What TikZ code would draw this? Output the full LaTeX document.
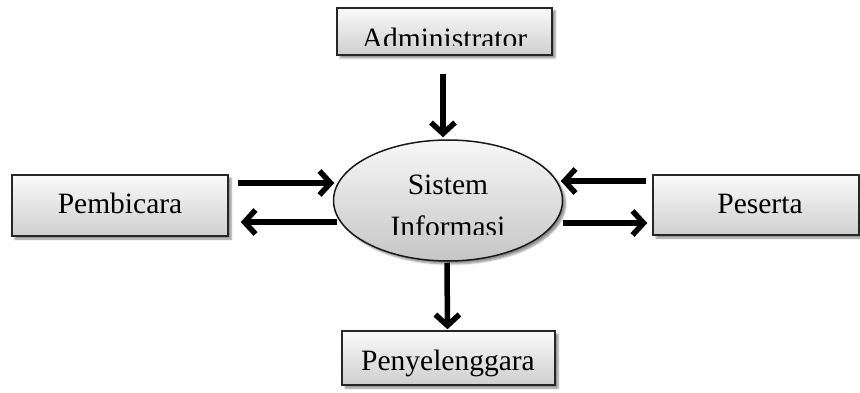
\documentclass[tikz,border=0pt]{standalone}
\usepackage{fontspec}
\setmainfont{Liberation Serif}
\usetikzlibrary{arrows.meta,shapes.geometric,shadows.blur}
\begin{document}
\begin{tikzpicture}[x=1pt,y=-1pt,
  entity/.style={rectangle, draw=black!85, line width=1.5pt, inner sep=0pt,
    top color=gray!4, bottom color=gray!38,
    blur shadow={shadow xshift=3pt, shadow yshift=-3pt, shadow blur steps=6, shadow opacity=45}},
  proc/.style={ellipse, draw=black!90, line width=1.5pt, inner sep=0pt,
    top color=gray!6, bottom color=gray!45,
    blur shadow={shadow xshift=3pt, shadow yshift=-3pt, shadow blur steps=6, shadow opacity=45}},
  lbl/.style={anchor=base, inner sep=0pt, font=\fontsize{29.5}{41}\selectfont},
  arr/.style={line width=5.5pt, -{Straight Barb[length=11pt,width=24pt]}}]
\useasboundingbox (0,0) rectangle (860,393);
% nodes
\node[entity, minimum width=215pt, minimum height=47pt] (admin) at (444.5,31.5) {};
\node[entity, minimum width=216pt, minimum height=61pt] (pemb) at (120,205.5) {};
\node[entity, minimum width=206pt, minimum height=60pt] (pes) at (756,205) {};
\node[entity, minimum width=213pt, minimum height=54pt] (peny) at (448.5,358) {};
\node[proc, minimum width=229pt, minimum height=121pt] (sis) at (448,200.5) {};
% labels
\begin{scope}
  \clip (337,8) rectangle (552,46);
  \node[lbl] (admintxt) at (444.5,49) {Administrator};
\end{scope}
\node[lbl] (pembtxt) at (120,213) {Pembicara};
\node[lbl] (pestxt) at (760,213) {Peserta};
\node[lbl] (penytxt) at (448,370) {Penyelenggara};
\begin{scope}
  \clip (334,140) rectangle (563,234);
  \node[lbl] (sistxt1) at (448,195) {Sistem};
  \node[lbl] (sistxt2) at (448,236.5) {Informasi};
\end{scope}
% connectors
\draw[arr] ([xshift=9pt,yshift=22.5pt]pemb.east) -- ([xshift=1.5pt,yshift=17.5pt]sis.west);
\draw[arr] ([xshift=4.5pt,yshift=-21.5pt]sis.west) -- ([xshift=12pt,yshift=-16.5pt]pemb.east);
\draw[arr] ([xshift=-6pt,yshift=24pt]pes.west) -- ([xshift=-2.5pt,yshift=19.5pt]sis.east);
\draw[arr] ([xshift=-0.5pt,yshift=-22.5pt]sis.east) -- ([xshift=-5pt,yshift=-18pt]pes.west);
\draw[arr] ([xshift=-1.5pt,yshift=-18pt]admin.south) -- ([xshift=-5pt,yshift=2pt]sis.north);
\draw[arr] ([xshift=-1pt,yshift=-1pt]sis.south) -- ([xshift=-1pt,yshift=1pt]peny.north);
\end{tikzpicture}
\end{document}
